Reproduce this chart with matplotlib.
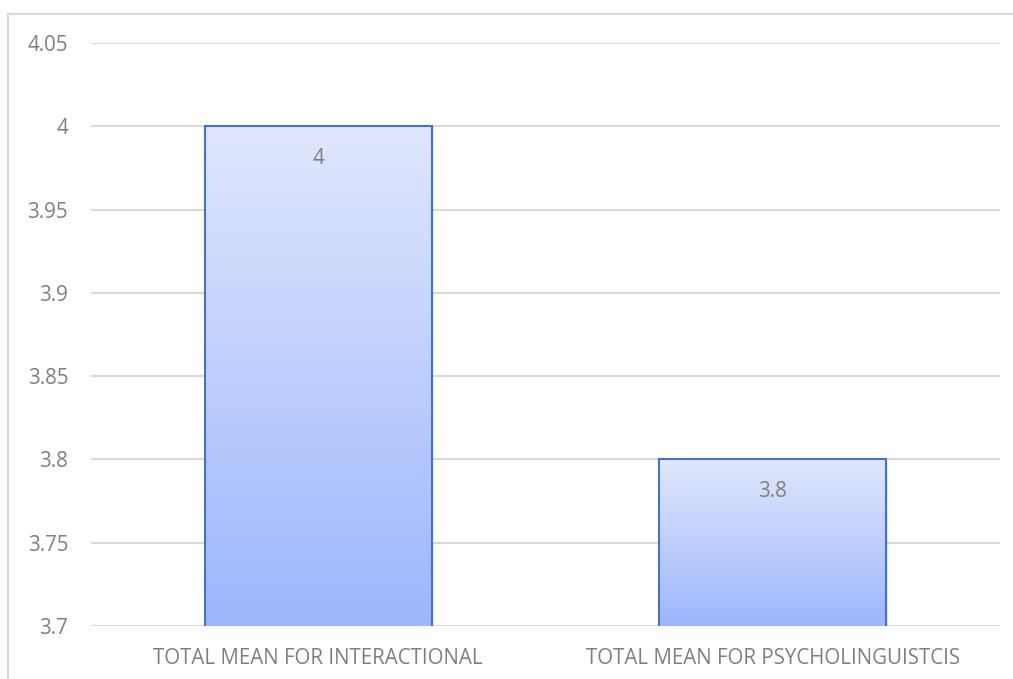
import numpy as np
import matplotlib.pyplot as plt
from matplotlib.patches import Rectangle
from matplotlib.colors import LinearSegmentedColormap

categories = ['TOTAL MEAN FOR INTERACTIONAL', 'TOTAL MEAN FOR PSYCHOLINGUISTCIS']
values = [4.0, 3.8]
value_labels = ['4', '3.8']
yticks = [3.7, 3.75, 3.8, 3.85, 3.9, 3.95, 4.0, 4.05]
ytick_labels = ['3.7', '3.75', '3.8', '3.85', '3.9', '3.95', '4', '4.05']

plt.rcParams['font.family'] = ['Open Sans', 'DejaVu Sans']
txt_color = '#7f7f7f'
fs = 14.8

fig = plt.figure(figsize=(10.13, 6.79), dpi=100)
ax = fig.add_axes([91/1013, 1-626/679, (1000-91)/1013, (626-43)/679])

# chart frame
fig.patches.append(Rectangle((8/1013, -0.05), 1.1, 1-14/679+0.05, transform=fig.transFigure,
                             fill=False, edgecolor='#d9d9d9', lw=1.5, zorder=0))

ymin, ymax = 3.7, 4.05
ax.set_xlim(-0.5, 1.5)
ax.set_ylim(ymin, ymax)

grad = LinearSegmentedColormap.from_list('g', ['#9db6fc', '#e0e7fd'])
width = 0.5
x = np.arange(len(categories))
bars = ax.bar(x, values, width=width, bottom=0, color='none', edgecolor='#4472c4', lw=1.5, zorder=3)
for b, v in zip(bars, values):
    x0 = b.get_x()
    img = np.linspace(0, 1, 256).reshape(-1, 1)
    im = ax.imshow(img, cmap=grad, origin='lower', aspect='auto',
                   extent=[x0, x0 + width, ymin, v], zorder=2)
    im.set_clip_path(b)
    # soft shadow
    ax.add_patch(Rectangle((x0 + 0.004, ymin), width, v - ymin - 0.001, facecolor='#000000',
                           alpha=0.08, lw=0, zorder=1.5))

for xi, v, lab in zip(x, values, value_labels):
    ax.annotate(lab, (xi, v), xytext=(0, -23), textcoords='offset points', ha='center', va='center',
                fontsize=fs, color=txt_color, zorder=4)

ax.set_xticks(x)
ax.set_xticklabels(categories, fontsize=fs, color=txt_color)
ax.set_yticks(yticks)
ax.set_yticklabels(ytick_labels, fontsize=fs, color=txt_color)
ax.tick_params(length=0)
ax.tick_params(axis='x', pad=16)
ax.tick_params(axis='y', pad=16.5)

ax.grid(axis='y', color='#d9d9d9', lw=1.5, zorder=0)
ax.set_axisbelow(True)
for s in ax.spines.values():
    s.set_visible(False)

fig.savefig('out.png', dpi=100)
